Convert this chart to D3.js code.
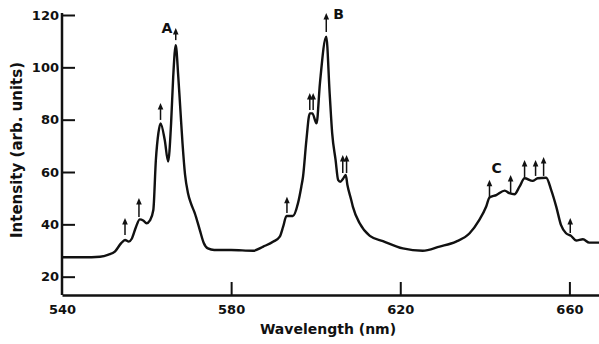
<!DOCTYPE html>
<html>
<head>
<meta charset="UTF-8">
<script src="https://d3js.org/d3.v7.min.js"></script>
<style>
  body { margin: 0; background: #fff; }
  text { font-family: 'DejaVu Sans', sans-serif; font-weight: bold; fill: #111; }
</style>
</head>
<body>
<svg id="chart" width="599" height="344"></svg>
<script>
// spectrum trace: wavelength (nm) and intensity (arb. units)
const wavelengths = [540, 545, 549, 551, 552.5, 554, 554.9, 555.8, 556.5, 557.5, 558.4, 559.2, 560, 560.8,
  561.6, 562.2, 562.8, 563.3, 564.3, 565.1, 565.8, 566.3, 566.9, 567.5, 568.0, 568.5, 569.1, 569.8,
  570.5, 571.4, 572.6, 573.5, 574.5, 576, 580, 585.2, 587.6, 590, 591.5, 592.3, 593.1, 594.6,
  595.8, 596.6, 597, 597.8, 598.6, 599.2, 600.2, 601, 602.5, 603.3, 603.9, 604.7, 605.3, 605.8,
  606.5, 607.1, 607.5, 608.4, 608.8, 610.4, 612.8, 615.9, 620.6, 625.3, 629.3, 633.2, 636.4, 638.7,
  640.3, 641.1, 642.7, 644.7, 645.8, 647, 648.2, 649.4, 651.3, 652.5, 654.5, 655.7, 656.9, 658,
  659.2, 660.4, 661.6, 663.2, 664.7, 667];
const intensity = [27.4, 27.4, 27.6, 28.4, 29.6, 32.8, 34.0, 33.4, 34.5, 39, 41.9, 41.5, 40.4, 41.5,
  45.5, 64.6, 74.9, 78.6, 72.2, 64.0, 78.6, 96.4, 108.5, 96.4, 83.7, 71, 59, 51.9,
  48, 44.3, 37.8, 33, 30.8, 30.2, 30.2, 29.9, 31.5, 33.4, 35.3, 39.1, 43.2, 43.2,
  48, 54.4, 58.2, 72.2, 82.4, 82.4, 78.6, 93.9, 111.7, 90.1, 74.8, 64.6, 57, 56.3,
  57.5, 58.9, 55, 49.3, 46.7, 40.4, 35.6, 33.6, 30.8, 29.9, 31.5, 33.4, 36.6, 41.7,
  46.7, 50.3, 51.2, 52.9, 51.9, 51.5, 54.4, 57.6, 56.6, 57.6, 57.8, 53.1, 46.7, 39.8,
  36.6, 35.6, 33.8, 34.3, 33, 33];

// marker arrows: position, tail and tip intensity
const arrowAt   = [554.9, 558.2, 563.3, 566.9, 593.2, 598.6, 599.4, 602.5, 606.4, 607.3, 641.1, 646.1, 649.4, 652.0, 653.9, 660.2];
const arrowBase = [35.9, 42.8, 79.9, 110.4, 44.3, 83.7, 83.7, 113.5, 59.6, 59.6, 50.5, 52, 58, 58.5, 58.5, 36.7];
const arrowTip  = [42.4, 50.1, 86.4, 115, 50.5, 90.2, 90.2, 120.8, 66.5, 66.5, 57, 58.9, 64.6, 64.6, 65.7, 42.4];

const peakLabels = ["A", "B", "C"];
const peakX = [564.8, 605.4, 642.8];
const peakY = [115, 120.4, 61.5];

const xTicks = [540, 580, 620, 660];
const yTicks = [20, 40, 60, 80, 100, 120];

const svg = d3.select("#chart");
const x = d3.scaleLinear().domain([540, 667]).range([62, 599]);
const y = d3.scaleLinear().domain([13, 120]).range([295, 15]);

// axes, ticks pointing inward
const xAxis = svg.append("g")
  .attr("transform", `translate(0,${y(13)})`)
  .call(d3.axisBottom(x).tickValues(xTicks).tickSize(-13).tickSizeOuter(0).tickPadding(10).tickFormat(d3.format("d")));
const yAxis = svg.append("g")
  .attr("transform", `translate(${x(540)},0)`)
  .call(d3.axisLeft(y).tickValues(yTicks).tickSize(-13).tickSizeOuter(0).tickPadding(3));
[xAxis, yAxis].forEach(g => {
  g.select(".domain").attr("stroke", "#111").attr("stroke-width", 2.5);
  g.selectAll(".tick line").attr("stroke", "#111").attr("stroke-width", 2);
  g.selectAll(".tick text").style("font-size", "13px").attr("fill", "#111");
});
xAxis.selectAll(".tick").filter(d => d === 540).select("line").remove();
yAxis.select(".domain").attr("d", `M0,${y(13)}V${y(120) - 2}`);

const pts = wavelengths.map((w, i) => [w, intensity[i]]);
const line = d3.line().x(d => x(d[0])).y(d => y(d[1])).curve(d3.curveMonotoneX);
svg.append("path")
  .datum(pts)
  .attr("d", line)
  .attr("fill", "none")
  .attr("stroke", "#111")
  .attr("stroke-width", 2.4)
  .attr("stroke-linejoin", "round");

// arrows
const arrows = svg.append("g");
arrowAt.forEach((w, i) => {
  const ax = x(w), y0 = y(arrowBase[i]), y1 = y(arrowTip[i]);
  arrows.append("line")
    .attr("x1", ax).attr("x2", ax).attr("y1", y0).attr("y2", y1 + 4)
    .attr("stroke", "#111").attr("stroke-width", 1.5);
  arrows.append("path")
    .attr("d", `M${ax},${y1}L${ax - 2.8},${y1 + 6.5}L${ax + 2.8},${y1 + 6.5}Z`)
    .attr("fill", "#111");
});

svg.selectAll(".peak")
  .data(peakLabels)
  .enter().append("text")
  .attr("class", "peak")
  .attr("x", (d, i) => x(peakX[i]))
  .attr("y", (d, i) => y(peakY[i]))
  .attr("text-anchor", "middle")
  .attr("dy", "0.35em")
  .style("font-size", "14px")
  .text(d => d);

svg.append("text")
  .attr("x", 328).attr("y", 334)
  .attr("text-anchor", "middle")
  .style("font-size", "14px")
  .text("Wavelength (nm)");

svg.append("text")
  .attr("transform", "translate(22,150) rotate(-90)")
  .attr("text-anchor", "middle")
  .style("font-size", "15px")
  .text("Intensity (arb. units)");
</script>
</body>
</html>
